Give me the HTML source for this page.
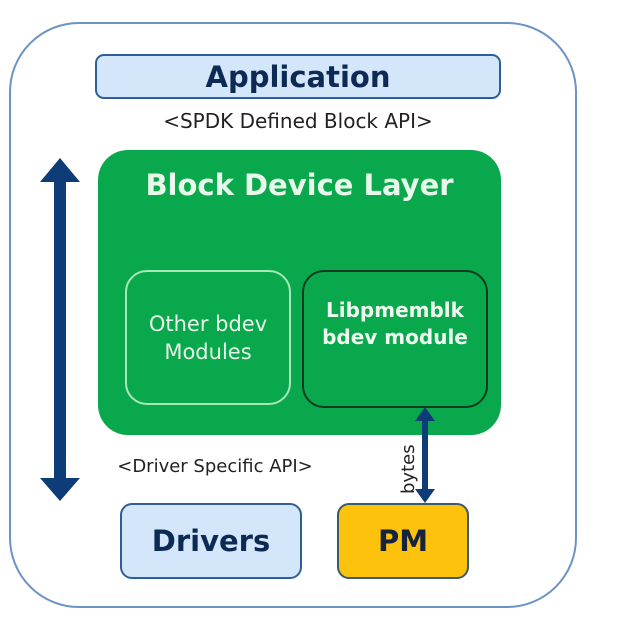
<!DOCTYPE html>
<html><head><style>
body{margin:0;width:620px;height:630px;background:#fff;position:relative;overflow:hidden;font-family:"DejaVu Sans","Liberation Sans",sans-serif}
div{position:absolute;box-sizing:border-box}
.c{display:flex;align-items:center;justify-content:center;text-align:center;white-space:nowrap}
</style></head><body>
<div style="left:9px;top:22px;width:568px;height:586px;border:2px solid #6b93c6;border-radius:70px"></div>
<div class="c" style="left:95px;top:54px;width:406px;height:45px;background:#d4e6f9;border:2px solid #2f5f98;border-radius:9px;color:#0d2a55;font-weight:bold;font-size:29px">Application</div>
<div class="c" style="left:95px;top:107px;width:406px;height:28px;font-size:20px;color:#222">&lt;SPDK Defined Block API&gt;</div>
<div style="left:98px;top:150px;width:403px;height:285px;background:#0aa84c;border-radius:30px"></div>
<div class="c" style="left:98px;top:164px;width:403px;height:42px;color:#e8f8ea;font-weight:bold;font-size:29px">Block Device Layer</div>
<div class="c" style="left:125px;top:270px;width:166px;height:135px;border:2px solid #a6e8b8;border-radius:22px;color:#e6f6e8;font-size:21px;line-height:28px">Other bdev<br>Modules</div>
<div class="c" style="left:302px;top:270px;width:186px;height:138px;border:2px solid #0b3a1e;border-radius:22px;color:#eef9ef;font-weight:bold;font-size:20px;line-height:27px;padding-bottom:30px">Libpmemblk<br>bdev module</div>
<svg style="position:absolute;left:0;top:0" width="620" height="630">
<line x1="60" y1="178" x2="60" y2="482" stroke="#0d3c78" stroke-width="12"/>
<polygon points="40,182 60,158 80,182" fill="#0d3c78"/>
<polygon points="40,478 60,501 80,478" fill="#0d3c78"/>
<line x1="425" y1="420" x2="425" y2="492" stroke="#0d3c78" stroke-width="6"/>
<polygon points="415,421 425,407 435,421" fill="#0d3c78"/>
<polygon points="415,489 425,503 435,489" fill="#0d3c78"/>
<text x="0" y="0" transform="translate(414,494) rotate(-90)" font-family="DejaVu Sans,Liberation Sans,sans-serif" font-size="18" fill="#222">bytes</text>
</svg>
<div class="c" style="left:110px;top:453px;width:210px;height:26px;font-size:18px;color:#222">&lt;Driver Specific API&gt;</div>
<div class="c" style="left:120px;top:503px;width:182px;height:76px;background:#d4e6f9;border:2px solid #2f5f98;border-radius:12px;color:#0d2a55;font-weight:bold;font-size:29px">Drivers</div>
<div class="c" style="left:337px;top:503px;width:132px;height:76px;background:#fdc20c;border:2px solid #3b5a6a;border-radius:12px;color:#16233a;font-weight:bold;font-size:29px">PM</div>
</body></html>
